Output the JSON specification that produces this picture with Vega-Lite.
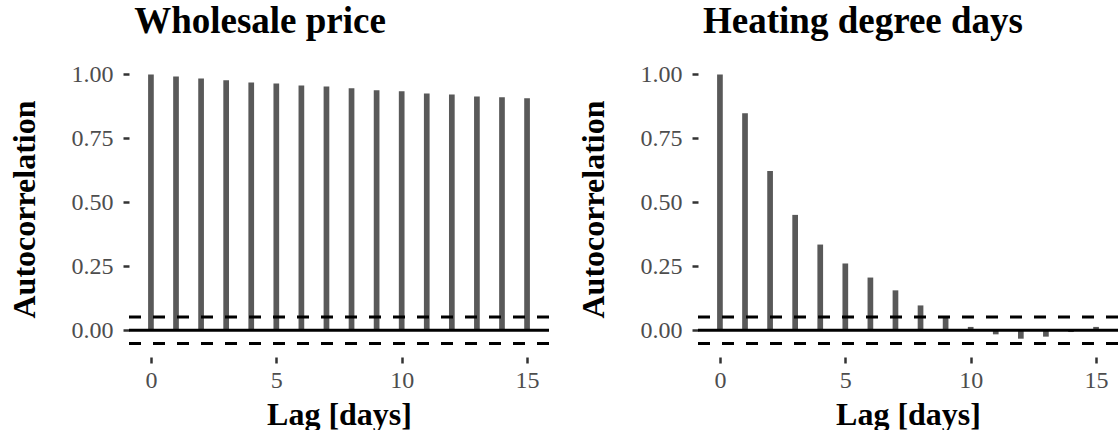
{
  "$schema": "https://vega.github.io/schema/vega-lite/v6.json",
  "autosize": {"type": "pad"},
  "padding": {"left": 8, "top": 3, "right": 0, "bottom": 0},
  "bounds": "flush",
  "spacing": 149,
  "config": {
    "font": "Liberation Serif",
    "view": {"stroke": null},
    "axis": {"grid": false, "domain": false, "labelFont": "Liberation Serif", "labelFontSize": 24, "labelColor": "#4d4d4d", "tickColor": "#333333", "tickWidth": 2.5, "tickSize": 6, "titleFont": "Liberation Serif", "titleFontSize": 32, "titleFontWeight": "bold", "titleColor": "#000000"},
    "axisX": {"labelPadding": 5, "titlePadding": 7},
    "axisY": {"labelPadding": 10, "titlePadding": 30},
    "title": {"font": "Liberation Serif", "fontSize": 37, "fontWeight": "bold", "color": "#000000", "anchor": "middle", "frame": "group", "offset": 20}
  },
  "hconcat": [
    {
      "width": 420, "height": 296,
      "title": {"text": "Wholesale price", "dx": -79},
      "data": {"values": [
        {"lag": 0, "acf": 1.0}, {"lag": 1, "acf": 0.992}, {"lag": 2, "acf": 0.984}, {"lag": 3, "acf": 0.977},
        {"lag": 4, "acf": 0.969}, {"lag": 5, "acf": 0.965}, {"lag": 6, "acf": 0.957}, {"lag": 7, "acf": 0.953},
        {"lag": 8, "acf": 0.946}, {"lag": 9, "acf": 0.938}, {"lag": 10, "acf": 0.934}, {"lag": 11, "acf": 0.926},
        {"lag": 12, "acf": 0.922}, {"lag": 13, "acf": 0.914}, {"lag": 14, "acf": 0.911}, {"lag": 15, "acf": 0.907}
      ]},
      "layer": [
        {
          "mark": {"type": "rule", "color": "#595959", "strokeWidth": 5.7, "strokeCap": "butt"},
          "encoding": {
            "x": {"field": "lag", "type": "quantitative", "scale": {"domain": [-0.875, 15.875], "nice": false, "zero": false}, "axis": {"values": [0, 5, 10, 15], "format": "d", "title": "Lag [days]"}},
            "y": {"field": "acf", "type": "quantitative", "scale": {"domain": [-0.1046, 1.0526], "nice": false, "zero": false}, "axis": {"values": [0, 0.25, 0.5, 0.75, 1], "format": ".2f", "title": "Autocorrelation"}},
            "y2": {"datum": 0}
          }
        },
        {
          "data": {"values": [{"ci": 0.052}, {"ci": -0.052}]},
          "mark": {"type": "rule", "color": "#000000", "strokeWidth": 3, "strokeDash": [12, 12]},
          "encoding": {
            "y": {"field": "ci", "type": "quantitative", "scale": {"domain": [-0.1046, 1.0526], "nice": false, "zero": false}, "axis": {"values": [0, 0.25, 0.5, 0.75, 1], "format": ".2f", "title": "Autocorrelation"}}
          }
        },
        {
          "data": {"values": [{"z": 0}]},
          "mark": {"type": "rule", "color": "#000000", "strokeWidth": 3},
          "encoding": {
            "y": {"field": "z", "type": "quantitative", "scale": {"domain": [-0.1046, 1.0526], "nice": false, "zero": false}, "axis": {"values": [0, 0.25, 0.5, 0.75, 1], "format": ".2f", "title": "Autocorrelation"}}
          }
        }
      ]
    },
    {
      "width": 420, "height": 296,
      "title": {"text": "Heating degree days", "dx": -45},
      "data": {"values": [
        {"lag": 0, "acf": 1.0}, {"lag": 1, "acf": 0.848}, {"lag": 2, "acf": 0.623}, {"lag": 3, "acf": 0.451},
        {"lag": 4, "acf": 0.335}, {"lag": 5, "acf": 0.261}, {"lag": 6, "acf": 0.206}, {"lag": 7, "acf": 0.156},
        {"lag": 8, "acf": 0.097}, {"lag": 9, "acf": 0.054}, {"lag": 10, "acf": 0.013}, {"lag": 11, "acf": -0.016},
        {"lag": 12, "acf": -0.033}, {"lag": 13, "acf": -0.025}, {"lag": 14, "acf": -0.007}, {"lag": 15, "acf": 0.013}
      ]},
      "layer": [
        {
          "mark": {"type": "rule", "color": "#595959", "strokeWidth": 5.7, "strokeCap": "butt"},
          "encoding": {
            "x": {"field": "lag", "type": "quantitative", "scale": {"domain": [-0.875, 15.875], "nice": false, "zero": false}, "axis": {"values": [0, 5, 10, 15], "format": "d", "title": "Lag [days]"}},
            "y": {"field": "acf", "type": "quantitative", "scale": {"domain": [-0.1046, 1.0526], "nice": false, "zero": false}, "axis": {"values": [0, 0.25, 0.5, 0.75, 1], "format": ".2f", "title": "Autocorrelation"}},
            "y2": {"datum": 0}
          }
        },
        {
          "data": {"values": [{"ci": 0.052}, {"ci": -0.052}]},
          "mark": {"type": "rule", "color": "#000000", "strokeWidth": 3, "strokeDash": [12, 12]},
          "encoding": {
            "y": {"field": "ci", "type": "quantitative", "scale": {"domain": [-0.1046, 1.0526], "nice": false, "zero": false}, "axis": {"values": [0, 0.25, 0.5, 0.75, 1], "format": ".2f", "title": "Autocorrelation"}}
          }
        },
        {
          "data": {"values": [{"z": 0}]},
          "mark": {"type": "rule", "color": "#000000", "strokeWidth": 3},
          "encoding": {
            "y": {"field": "z", "type": "quantitative", "scale": {"domain": [-0.1046, 1.0526], "nice": false, "zero": false}, "axis": {"values": [0, 0.25, 0.5, 0.75, 1], "format": ".2f", "title": "Autocorrelation"}}
          }
        }
      ]
    }
  ]
}
